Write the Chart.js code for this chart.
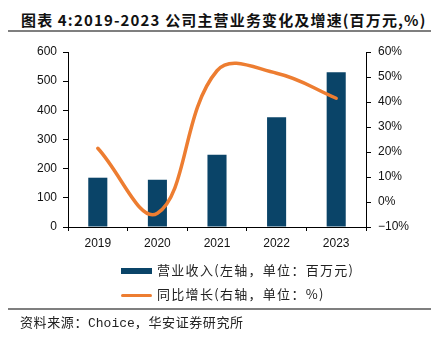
<!DOCTYPE html>
<html>
<head>
<meta charset="utf-8">
<script src="https://cdn.jsdelivr.net/npm/chart.js@4.4.1/dist/chart.umd.min.js"></script>
<style>
html, body { margin: 0; padding: 0; background: #fff; }
#wrap { position: relative; width: 431px; height: 339px; overflow: hidden; font-family: "Noto Sans CJK SC", sans-serif; }
#chart { position: absolute; left: 0; top: 0; }
.title { position: absolute; left: 21px; top: 9px; font-size: 15px; font-weight: bold; color: #111; letter-spacing: 1.15px; white-space: nowrap; line-height: 22px; }
.rule { position: absolute; left: 8px; width: 423px; height: 2px; background: #7f7f7f; }
.legend { position: absolute; left: 121px; font-size: 13px; color: #222; letter-spacing: 1.3px; white-space: nowrap; line-height: 18px; }
.legend span.sw { display: inline-block; width: 31px; vertical-align: middle; margin-right: 5px; }
.source { position: absolute; left: 20px; top: 313px; font-size: 13px; color: #222; letter-spacing: 0.6px; white-space: nowrap; line-height: 18px; }
.mono { font-family: "Liberation Mono", monospace; letter-spacing: 0; }
</style>
</head>
<body>
<div id="wrap">
  <div class="title">图表 4:2019-2023 公司主营业务变化及增速(百万元,%)</div>
  <div class="rule" style="top:30px"></div>
  <canvas id="chart" width="431" height="339"></canvas>
  <div class="legend" style="top:261px"><span class="sw" style="height:6px;background:#0a4468"></span>营业收入(左轴，单位：百万元)</div>
  <div class="legend" style="top:285px"><span class="sw" style="height:3px;border-radius:2px;background:#ed7d31"></span>同比增长(右轴，单位：%)</div>
  <div class="rule" style="top:308px"></div>
  <div class="source">资料来源：<span class="mono">Choice</span>，华安证券研究所</div>
</div>
<script>
// years on the category axis
const years = ["2019", "2020", "2021", "2022", "2023"];
// main business revenue, million yuan (left axis)
const revenue = [169, 162, 248, 376, 531];
// year-over-year growth, % (right axis)
const growth = [21.5, -4.5, 52.5, 51.5, 41.5];

const leftTicks = [0, 100, 200, 300, 400, 500, 600];
const rightTicks = [-10, 0, 10, 20, 30, 40, 50, 60];

const tickFont = { family: "'Liberation Sans', Arial, sans-serif", size: 12 };

new Chart(document.getElementById("chart"), {
  data: {
    labels: years,
    datasets: [
      {
        type: "line",
        label: "同比增长(右轴，单位：%)",
        data: growth,
        yAxisID: "y1",
        borderColor: "#ed7d31",
        borderWidth: 3.5,
        borderCapStyle: "round",
        pointRadius: 0,
        tension: 0.4,
        order: 0
      },
      {
        type: "bar",
        label: "营业收入(左轴，单位：百万元)",
        data: revenue,
        yAxisID: "y",
        backgroundColor: "#0a4468",
        categoryPercentage: 0.8,
        barPercentage: 0.4,
        order: 1
      }
    ]
  },
  options: {
    responsive: false,
    animation: false,
    layout: { padding: { top: 52, left: 0, right: 0, bottom: 0 } },
    plugins: { legend: { display: false }, tooltip: { enabled: false } },
    scales: {
      x: {
        offset: true,
        grid: { offset: true, drawOnChartArea: false, drawTicks: true, tickLength: 4, color: "#000" },
        border: { color: "#000", width: 1 },
        ticks: { color: "#111", font: tickFont, padding: 5 },
        afterFit: s => { s.height = 112; }
      },
      y: {
        position: "left",
        min: leftTicks[0],
        max: leftTicks[leftTicks.length - 1],
        afterBuildTicks: s => { s.ticks = leftTicks.map(v => ({ value: v })); },
        grid: { drawOnChartArea: false, tickLength: 5, color: "#000" },
        border: { color: "#000", width: 1 },
        ticks: { color: "#111", font: tickFont, padding: 6 },
        afterFit: s => { s.width = 68; }
      },
      y1: {
        position: "right",
        min: rightTicks[0],
        max: rightTicks[rightTicks.length - 1],
        afterBuildTicks: s => { s.ticks = rightTicks.map(v => ({ value: v })); },
        grid: { drawOnChartArea: false, tickLength: 5, color: "#000" },
        border: { color: "#000", width: 1 },
        ticks: {
          color: "#111",
          font: tickFont,
          padding: 7,
          callback: v => (v < 0 ? "\u2212" + Math.abs(v) : v) + "%"
        },
        afterFit: s => { s.width = 65; }
      }
    }
  }
});
</script>
</body>
</html>
